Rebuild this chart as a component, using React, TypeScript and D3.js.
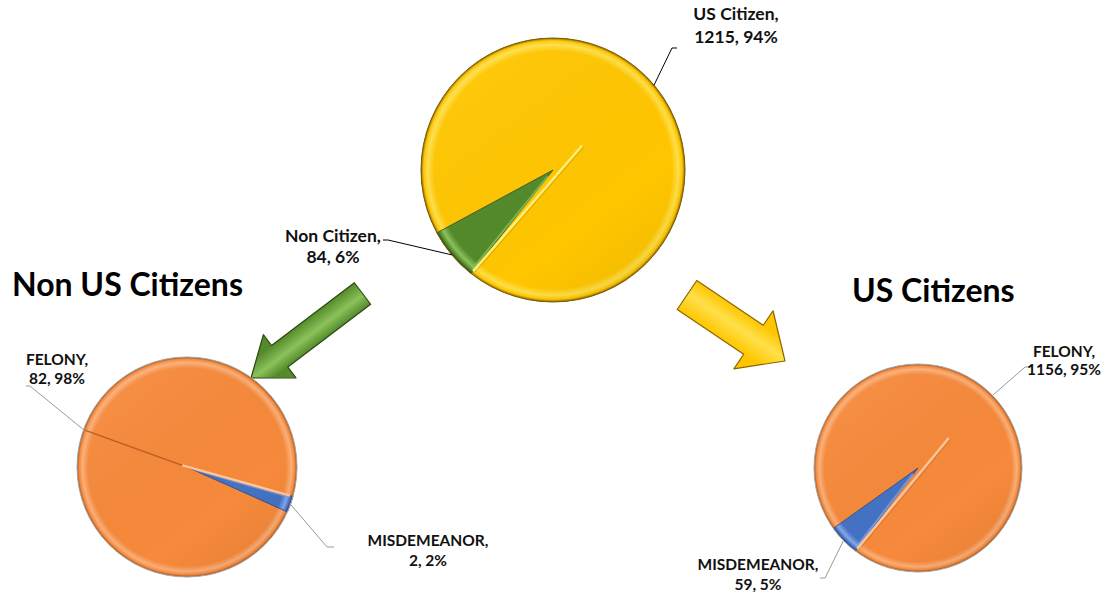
import React from "react";
import * as d3 from "d3";

// ---------- data ----------
const topCategories = ["US Citizen", "Non Citizen"];
const topValues = [1215, 84];
const nonCitizenCategories = ["FELONY", "MISDEMEANOR"];
const nonCitizenValues = [82, 2];
const usCitizenCategories = ["FELONY", "MISDEMEANOR"];
const usCitizenValues = [1156, 59];
const titleLabels = ["Non US Citizens", "US Citizens"];

// ---------- styling ----------
type Pal = { base: string; light: string; dark: string; seam: string };
const PAL: Record<string, Pal> = {
  yellow: { base: "#FFC600", light: "#FFE04A", dark: "#8A6600", seam: "#FFF07A" },
  green: { base: "#548A2A", light: "#8CC25A", dark: "#2C4A12", seam: "#A8D878" },
  orange: { base: "#F6893B", light: "#FBB07A", dark: "#A04C14", seam: "#FDC79C" },
  blue: { base: "#4472C4", light: "#86A8E8", dark: "#1F3C78", seam: "#A8C2F0" },
};

const FONT = "Lato, 'Open Sans', sans-serif";
const deg = Math.PI / 180;

type LabelSpec = { x: number; ys: number[]; leader: [number, number][] };
type PieSpec = {
  id: string;
  cats: string[];
  vals: number[];
  cx: number;
  cy: number;
  r: number;
  start: number; // degrees
  apexShift: number;
  colors: string[];
  rim: string;
  seam?: boolean;
  labels: LabelSpec[];
  fontSize: number;
  leaderColor: string;
};

const pies: PieSpec[] = [
  {
    id: "top",
    cats: topCategories,
    vals: topValues,
    cx: 553,
    cy: 170,
    r: 132,
    start: -118.4,
    apexShift: 38,
    colors: ["yellow", "green"],
    rim: "#7a5c00",
    fontSize: 17.5,
    leaderColor: "#000",
    labels: [
      { x: 736, ys: [20, 43], leader: [[672, 48], [677, 48]] },
      { x: 333, ys: [242, 263], leader: [[388, 240], [383, 240]] },
    ],
  },
  {
    id: "left",
    cats: nonCitizenCategories,
    vals: nonCitizenValues,
    cx: 187,
    cy: 467,
    r: 110,
    start: -245.9,
    apexShift: 5,
    colors: ["orange", "blue"],
    rim: "#a8a8a8",
    seam: true,
    fontSize: 15.5,
    leaderColor: "#9a9a9a",
    labels: [
      { x: 57, ys: [365, 384], leader: [[30, 386], [26, 386]] },
      { x: 428, ys: [546, 566], leader: [[327, 547], [334, 547]] },
    ],
  },
  {
    id: "right",
    cats: usCitizenCategories,
    vals: usCitizenValues,
    cx: 918,
    cy: 468,
    r: 104,
    start: -125.5,
    apexShift: 43,
    colors: ["orange", "blue"],
    rim: "#a8a8a8",
    fontSize: 15.5,
    leaderColor: "#9a9a9a",
    labels: [
      { x: 1064, ys: [357, 375], leader: [[1025, 367], [1031, 367]] },
      { x: 758, ys: [570, 590], leader: [[825, 578], [820, 578]] },
    ],
  },
];

type ArrowSpec = { id: string; tail: [number, number]; tip: [number, number]; shaftW: number; headW: number; headL: number; color: string };
const arrows: ArrowSpec[] = [
  { id: "ga", tail: [362.5, 293.5], tip: [251, 378], shaftW: 27, headW: 54, headL: 36, color: "green" },
  { id: "ya", tail: [687, 295], tip: [785, 361], shaftW: 35, headW: 70, headL: 38, color: "yellow" },
];

function arrowPath(a: ArrowSpec): string {
  const [x0, y0] = a.tail;
  const [x1, y1] = a.tip;
  const L = Math.hypot(x1 - x0, y1 - y0);
  const ux = (x1 - x0) / L, uy = (y1 - y0) / L;
  const nx = -uy, ny = ux;
  const bx = x1 - ux * a.headL, by = y1 - uy * a.headL;
  const pts: [number, number][] = [
    [x0 + nx * a.shaftW / 2, y0 + ny * a.shaftW / 2],
    [bx + nx * a.shaftW / 2, by + ny * a.shaftW / 2],
    [bx + nx * a.headW / 2, by + ny * a.headW / 2],
    [x1, y1],
    [bx - nx * a.headW / 2, by - ny * a.headW / 2],
    [bx - nx * a.shaftW / 2, by - ny * a.shaftW / 2],
    [x0 - nx * a.shaftW / 2, y0 - ny * a.shaftW / 2],
  ];
  return d3.line()(pts) + "Z";
}

function PieChart({ p }: { p: PieSpec }) {
  const total = d3.sum(p.vals);
  const arcs = d3
    .pie<number>()
    .sort(null)
    .startAngle(p.start * deg)
    .endAngle(p.start * deg + 2 * Math.PI)(p.vals);
  const arcGen = d3.arc<d3.PieArcDatum<number>>().innerRadius(0).outerRadius(p.r);
  const rimPt = (a: number, r: number) => [p.cx + r * Math.sin(a), p.cy - r * Math.cos(a)] as [number, number];
  const big = arcs[0];
  const bigMid = (big.startAngle + big.endAngle) / 2;
  const apex = rimPt(bigMid, p.apexShift);
  const endRim = rimPt(big.endAngle, p.r - 3);
  const bigPal = PAL[p.colors[0]];

  return (
    <g>
      <g transform={`translate(${p.cx},${p.cy})`}>
        {arcs.map((a, i) => {
          const pal = PAL[p.colors[i]];
          return (
            <path
              key={i}
              d={arcGen(a) || ""}
              fill={`url(#rg-${p.id}-${p.colors[i]})`}
              stroke={i === 0 ? "none" : pal.dark}
              strokeWidth={0.8}
              strokeLinejoin="round"
            />
          );
        })}
      </g>
      {/* bevel highlight on the small slice's upper edge */}
      {(() => {
        const s = arcs[1];
        const a = rimPt(s.startAngle + 0.015, p.r - 4);
        const b = rimPt(s.startAngle + 0.04, 8);
        return <line x1={b[0]} y1={b[1]} x2={a[0]} y2={a[1]} stroke={PAL[p.colors[1]].light} strokeWidth={2} opacity={0.75} />;
      })()}
      {/* 3D seam of the large slice */}
      <line x1={apex[0] + 1.5} y1={apex[1] + 1.5} x2={endRim[0] + 1.5} y2={endRim[1] + 1.5} stroke={bigPal.dark} strokeWidth={1} opacity={0.35} />
      <line x1={apex[0]} y1={apex[1]} x2={endRim[0]} y2={endRim[1]} stroke={bigPal.seam} strokeWidth={2.4} />
      <circle cx={p.cx} cy={p.cy} r={p.r} fill={`url(#shade-${p.id})`} pointerEvents="none" />
      <circle cx={p.cx} cy={p.cy} r={p.r} fill="none" stroke={p.rim} strokeWidth={1} />
      {p.seam && (() => {
        const e = rimPt(bigMid, p.r - 2);
        return <line x1={apex[0]} y1={apex[1]} x2={e[0]} y2={e[1]} stroke="#a9551c" strokeWidth={1.3} opacity={0.8} />;
      })()}
      {arcs.map((a, i) => {
        const mid = (a.startAngle + a.endAngle) / 2;
        const lab = p.labels[i];
        const start = rimPt(mid, p.r);
        const pts: [number, number][] = [start, ...lab.leader];
        const pct = Math.round((p.vals[i] / total) * 100);
        const lines = [`${p.cats[i]},`, `${p.vals[i]}, ${pct}%`];
        return (
          <g key={"l" + i}>
            <path d={d3.line()(pts) || ""} fill="none" stroke={p.leaderColor} strokeWidth={1} />
            <text textAnchor="middle" fontFamily={FONT} fontWeight={700} fontSize={p.fontSize} fill="#111">
              {lines.map((t, k) => (
                <tspan key={k} x={lab.x} y={lab.ys[k]}>
                  {t}
                </tspan>
              ))}
            </text>
          </g>
        );
      })}
    </g>
  );
}

export default function App() {
  return (
    <svg width={1102} height={597} style={{ position: "absolute", left: 0, top: 0, background: "#fff" }}>
      <defs>
        {pies.map((p) =>
          p.colors.map((c) => {
            const pal = PAL[c];
            return (
              <radialGradient key={p.id + c} id={`rg-${p.id}-${c}`} gradientUnits="userSpaceOnUse" cx={0} cy={0} r={p.r}>
                <stop offset="0" stopColor={pal.base} />
                <stop offset="0.9" stopColor={pal.base} />
                <stop offset="0.95" stopColor={pal.light} />
                <stop offset="0.98" stopColor={pal.base} />
                <stop offset="1" stopColor={pal.dark} />
              </radialGradient>
            );
          })
        )}
        {pies.map((p) => (
          <linearGradient key={"s" + p.id} id={`shade-${p.id}`} x1="0.2" y1="0.1" x2="0.85" y2="0.95">
            <stop offset="0" stopColor="#fff" stopOpacity={0.05} />
            <stop offset="0.7" stopColor="#000" stopOpacity={0} />
            <stop offset="1" stopColor="#000" stopOpacity={0.06} />
          </linearGradient>
        ))}
        {arrows.map((a) => {
          const pal = PAL[a.color];
          const [x0, y0] = a.tail;
          const [x1, y1] = a.tip;
          const L = Math.hypot(x1 - x0, y1 - y0);
          const nx = -(y1 - y0) / L, ny = (x1 - x0) / L;
          const mx = (x0 + x1) / 2, my = (y0 + y1) / 2;
          return (
            <linearGradient
              key={a.id}
              id={a.id}
              gradientUnits="userSpaceOnUse"
              x1={mx - (nx * a.shaftW) / 2}
              y1={my - (ny * a.shaftW) / 2}
              x2={mx + (nx * a.shaftW) / 2}
              y2={my + (ny * a.shaftW) / 2}
            >
              <stop offset="0" stopColor={pal.base} />
              <stop offset="0.45" stopColor={pal.light} />
              <stop offset="1" stopColor={pal.base} />
            </linearGradient>
          );
        })}
      </defs>

      {arrows.map((a) => (
        <path key={a.id} d={arrowPath(a)} fill={`url(#${a.id})`} stroke={PAL[a.color].dark} strokeWidth={1.2} strokeLinejoin="round" />
      ))}

      {pies.map((p) => (
        <PieChart key={p.id} p={p} />
      ))}

      <text x={12} y={296} fontFamily={FONT} fontWeight={700} fontSize={32} fill="#000">
        {titleLabels[0]}
      </text>
      <text x={852} y={302} fontFamily={FONT} fontWeight={700} fontSize={32} fill="#000">
        {titleLabels[1]}
      </text>
    </svg>
  );
}
